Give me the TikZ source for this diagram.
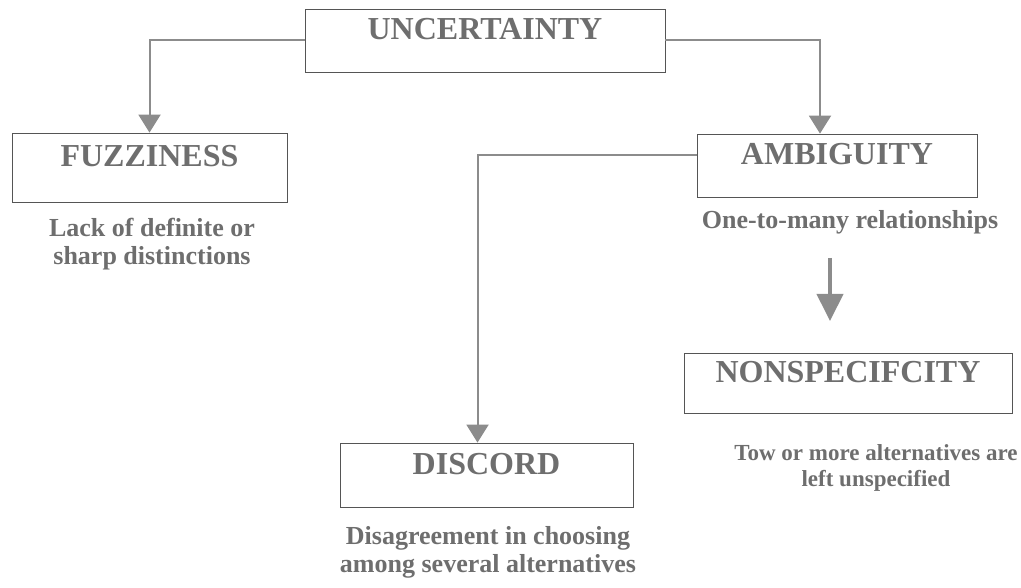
\documentclass[tikz,border=0pt]{standalone}
\usepackage{fontspec}
\setmainfont{Liberation Serif}
\usetikzlibrary{arrows.meta}

\definecolor{inkgray}{HTML}{6E6E6E}
\definecolor{linegray}{HTML}{8C8C8C}
\definecolor{boxgray}{HTML}{555555}

\begin{document}
\begin{tikzpicture}[
  x=1pt, y=-1pt,
  termbox/.style={draw=boxgray, line width=0.8pt, inner sep=0pt, align=center,
    text height=21pt, text depth=22pt, text=inkgray,
    font=\bfseries\fontsize{32}{34}\selectfont},
  gloss/.style={align=center, inner sep=0pt, text=inkgray,
    font=\bfseries\fontsize{26}{28}\selectfont},
  link/.style={-{Triangle[length=18pt, width=22pt]}, line width=2pt, draw=linegray},
  bigflow/.style={-{Triangle[length=27pt, width=26pt]}, line width=4pt, draw=linegray}
]
\useasboundingbox (0,0) rectangle (1021,588);

% the root and the two kinds of uncertainty
\node[termbox, minimum width=360pt, minimum height=63pt] (unc) at (485,40.5) {UNCERTAINTY};
\node[termbox, minimum width=275pt, minimum height=69pt] (fuz) at (149.5,167.5) {FUZZINESS};
\node[termbox, minimum width=280pt, minimum height=63pt] (amb) at (837,165.5) {AMBIGUITY};

\draw[link] (unc.west) -| (fuz.north);
\draw[link] (unc.east) -| ([xshift=-17pt]amb.north);

\node[gloss] (fuzdesc) at (152,244) {Lack of definite or\\sharp distinctions};
\node[gloss] (ambdesc) at (850,222) {One-to-many relationships};

% the two forms of ambiguity
\node[termbox, minimum width=293pt, minimum height=64pt] (dis) at (486.5,475) {DISCORD};
\node[termbox, minimum width=328pt, minimum height=60pt] (non) at (848,383) {NONSPECIFCITY};

\draw[link] ([yshift=10pt]amb.west) -| ([xshift=-9pt]dis.north);

\coordinate (flowtop) at (830,258);
\coordinate (flowend) at (830,321);
\draw[bigflow] (flowtop) -- (flowend);

\node[gloss] (disdesc) at (488,552) {Disagreement in choosing\\among several alternatives};
\node[gloss, font=\bfseries\fontsize{23}{26}\selectfont] (nondesc) at (876,468) {Tow or more alternatives are\\left unspecified};

\end{tikzpicture}
\end{document}
